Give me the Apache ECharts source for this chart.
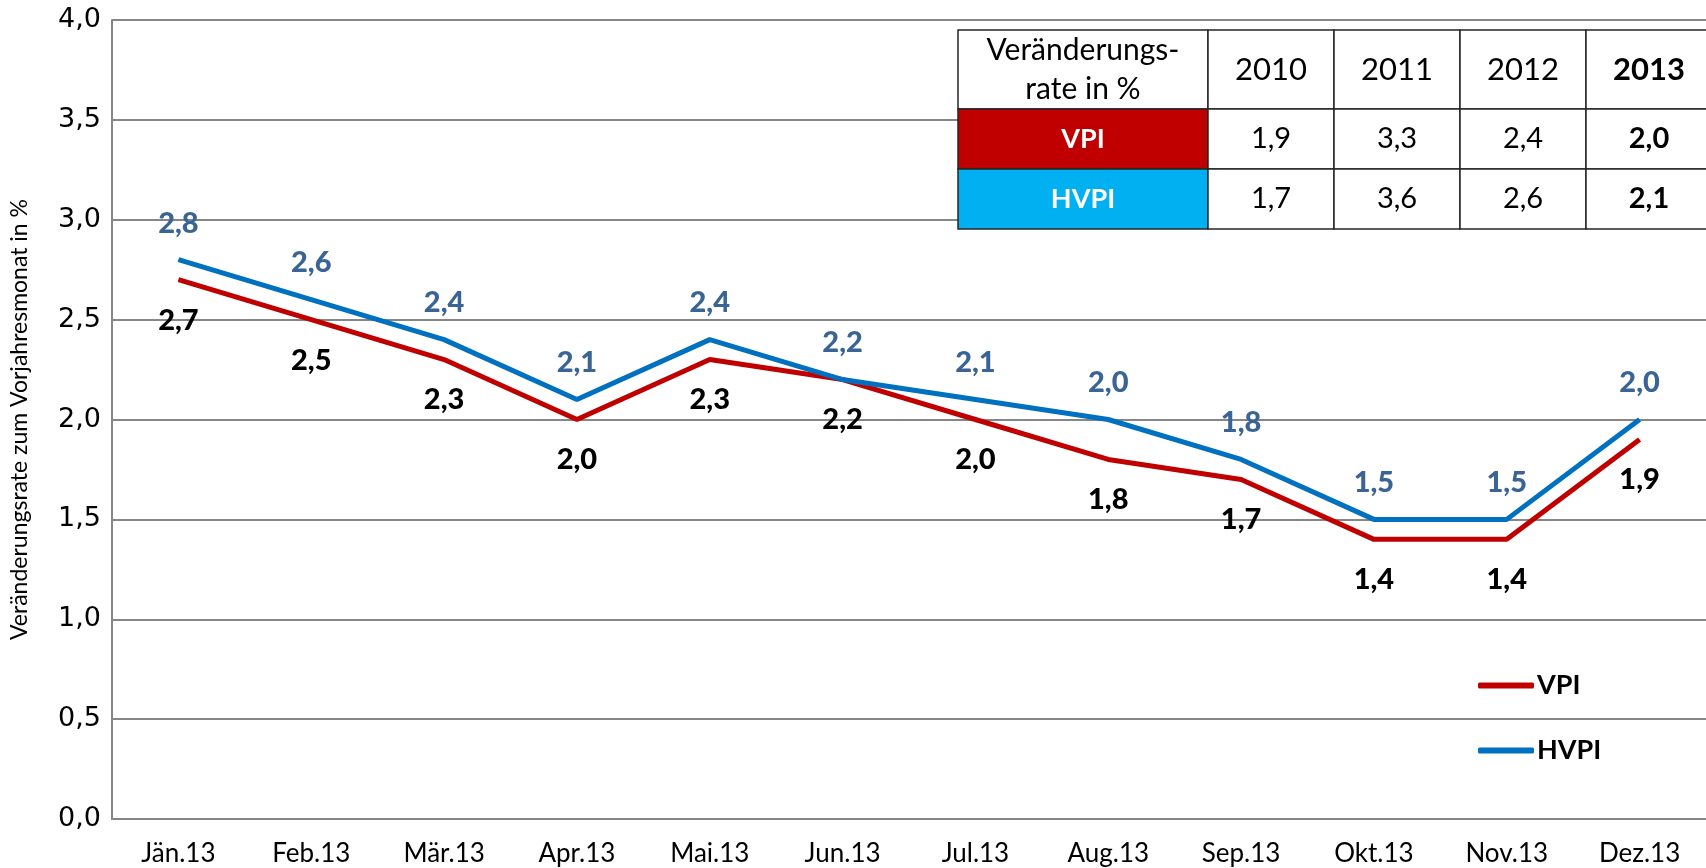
<!DOCTYPE html>
<html>
<head>
<meta charset="utf-8">
<title>VPI / HVPI 2013</title>
<script src="https://cdn.jsdelivr.net/npm/echarts@6/dist/echarts.min.js"></script>
<style>
    html, body { margin: 0; padding: 0; background: #fff; }
    #chart { width: 1706px; height: 868px; }
</style>
</head>
<body>
<div id="chart"></div>
<script>
// Monate
var months = ['Jän.13', 'Feb.13', 'Mär.13', 'Apr.13', 'Mai.13', 'Jun.13', 'Jul.13', 'Aug.13', 'Sep.13', 'Okt.13', 'Nov.13', 'Dez.13'];
// Veränderungsrate zum Vorjahresmonat in %
var vpi = [2.7, 2.5, 2.3, 2.0, 2.3, 2.2, 2.0, 1.8, 1.7, 1.4, 1.4, 1.9];
var hvpi = [2.8, 2.6, 2.4, 2.1, 2.4, 2.2, 2.1, 2.0, 1.8, 1.5, 1.5, 2.0];
// Jahreswerte (Tabelle)
var tableYears = ['2010', '2011', '2012', '2013'];
var tableVpi = ['1,9', '3,3', '2,4', '2,0'];
var tableHvpi = ['1,7', '3,6', '2,6', '2,1'];

var calibri = 'Lato, "Open Sans", sans-serif';

function komma(v) {
    return v.toFixed(1).replace('.', ',');
}

// Tabelle oben rechts als graphic-Elemente
function buildTable() {
    var left = 958, top = 30;
    var firstW = 250, colW = 126;
    var rowH = [79, 60, 60];
    var els = [];
    var rows = [
        { label: 'Veränderungs-\nrate in %', fill: '#fff', color: '#000', bold: false, size: 30, values: tableYears, vsize: 31 },
        { label: 'VPI', fill: '#C00000', color: '#fff', bold: true, size: 27, values: tableVpi, vsize: 29 },
        { label: 'HVPI', fill: '#00B0F0', color: '#fff', bold: true, size: 27, values: tableHvpi, vsize: 29 }
    ];
    var y = top;
    for (var r = 0; r < rows.length; r++) {
        var row = rows[r];
        var h = rowH[r];
        els.push({
            type: 'rect', shape: { x: left, y: y, width: firstW, height: h },
            style: { fill: row.fill, stroke: '#262626', lineWidth: 1.5 }, z: 100
        });
        els.push({
            type: 'text', x: left + firstW / 2, y: y + h / 2, z: 101,
            style: {
                text: row.label, align: 'center', verticalAlign: 'middle', lineHeight: 39,
                font: (row.bold ? 'bold ' : '') + row.size + 'px ' + calibri, fill: row.color
            }
        });
        for (var c = 0; c < row.values.length; c++) {
            var x = left + firstW + c * colW;
            els.push({
                type: 'rect', shape: { x: x, y: y, width: colW, height: h },
                style: { fill: '#fff', stroke: '#262626', lineWidth: 1.5 }, z: 100
            });
            els.push({
                type: 'text', x: x + colW / 2, y: y + h / 2, z: 101,
                style: {
                    text: row.values[c], align: 'center', verticalAlign: 'middle',
                    font: (c === 3 ? 'bold ' : '') + row.vsize + 'px ' + calibri, fill: '#000'
                }
            });
        }
        y += h;
    }
    return els;
}

var option = {
    backgroundColor: '#fff',
    animation: false,
    grid: { left: 107, right: -16, top: 20, bottom: 49 },
    legend: {
        orient: 'vertical',
        left: 1473,
        top: 667,
        itemWidth: 56,
        itemHeight: 6,
        itemGap: 38,
        icon: 'roundRect',
        textStyle: { fontFamily: calibri, fontWeight: 'bold', fontSize: 27, color: '#000', padding: [0, 0, 0, -2] },
        data: ['VPI', 'HVPI']
    },
    xAxis: {
        type: 'category',
        data: months,
        boundaryGap: true,
        axisLine: { lineStyle: { color: '#868686', width: 2 } },
        axisTick: { show: false },
        axisLabel: { fontFamily: calibri, fontSize: 26, color: '#000', margin: 22 }
    },
    yAxis: {
        type: 'value',
        min: 0,
        max: 4,
        interval: 0.5,
        name: 'Veränderungsrate zum Vorjahresmonat in %',
        nameLocation: 'middle',
        nameRotate: 90,
        nameGap: 81,
        nameTextStyle: { fontFamily: calibri, fontSize: 23, color: '#000' },
        axisLine: { show: true, lineStyle: { color: '#868686', width: 2 } },
        axisTick: { show: false },
        axisLabel: {
            fontFamily: '"DejaVu Sans", Verdana, sans-serif', fontSize: 27, color: '#000', margin: 11,
            formatter: function (v) { return komma(v); }
        },
        splitLine: { lineStyle: { color: '#868686', width: 2 } }
    },
    series: [
        {
            name: 'VPI',
            type: 'line',
            data: vpi,
            symbol: 'circle',
            symbolSize: 0.1,
            lineStyle: { color: '#C00000', width: 5 },
            itemStyle: { color: '#C00000' },
            label: {
                show: true, position: 'bottom', distance: 26,
                fontFamily: calibri, fontWeight: 900, fontSize: 29, color: '#000',
                formatter: function (p) { return komma(p.value); }
            }
        },
        {
            name: 'HVPI',
            type: 'line',
            data: hvpi,
            symbol: 'circle',
            symbolSize: 0.1,
            lineStyle: { color: '#0070C0', width: 5 },
            itemStyle: { color: '#0070C0' },
            label: {
                show: true, position: 'top', distance: 22,
                fontFamily: calibri, fontWeight: 900, fontSize: 29, color: '#3B6496',
                formatter: function (p) { return komma(p.value); }
            }
        }
    ],
    graphic: buildTable()
};

var myChart = echarts.init(document.getElementById('chart'));
myChart.setOption(option);
</script>
</body>
</html>
